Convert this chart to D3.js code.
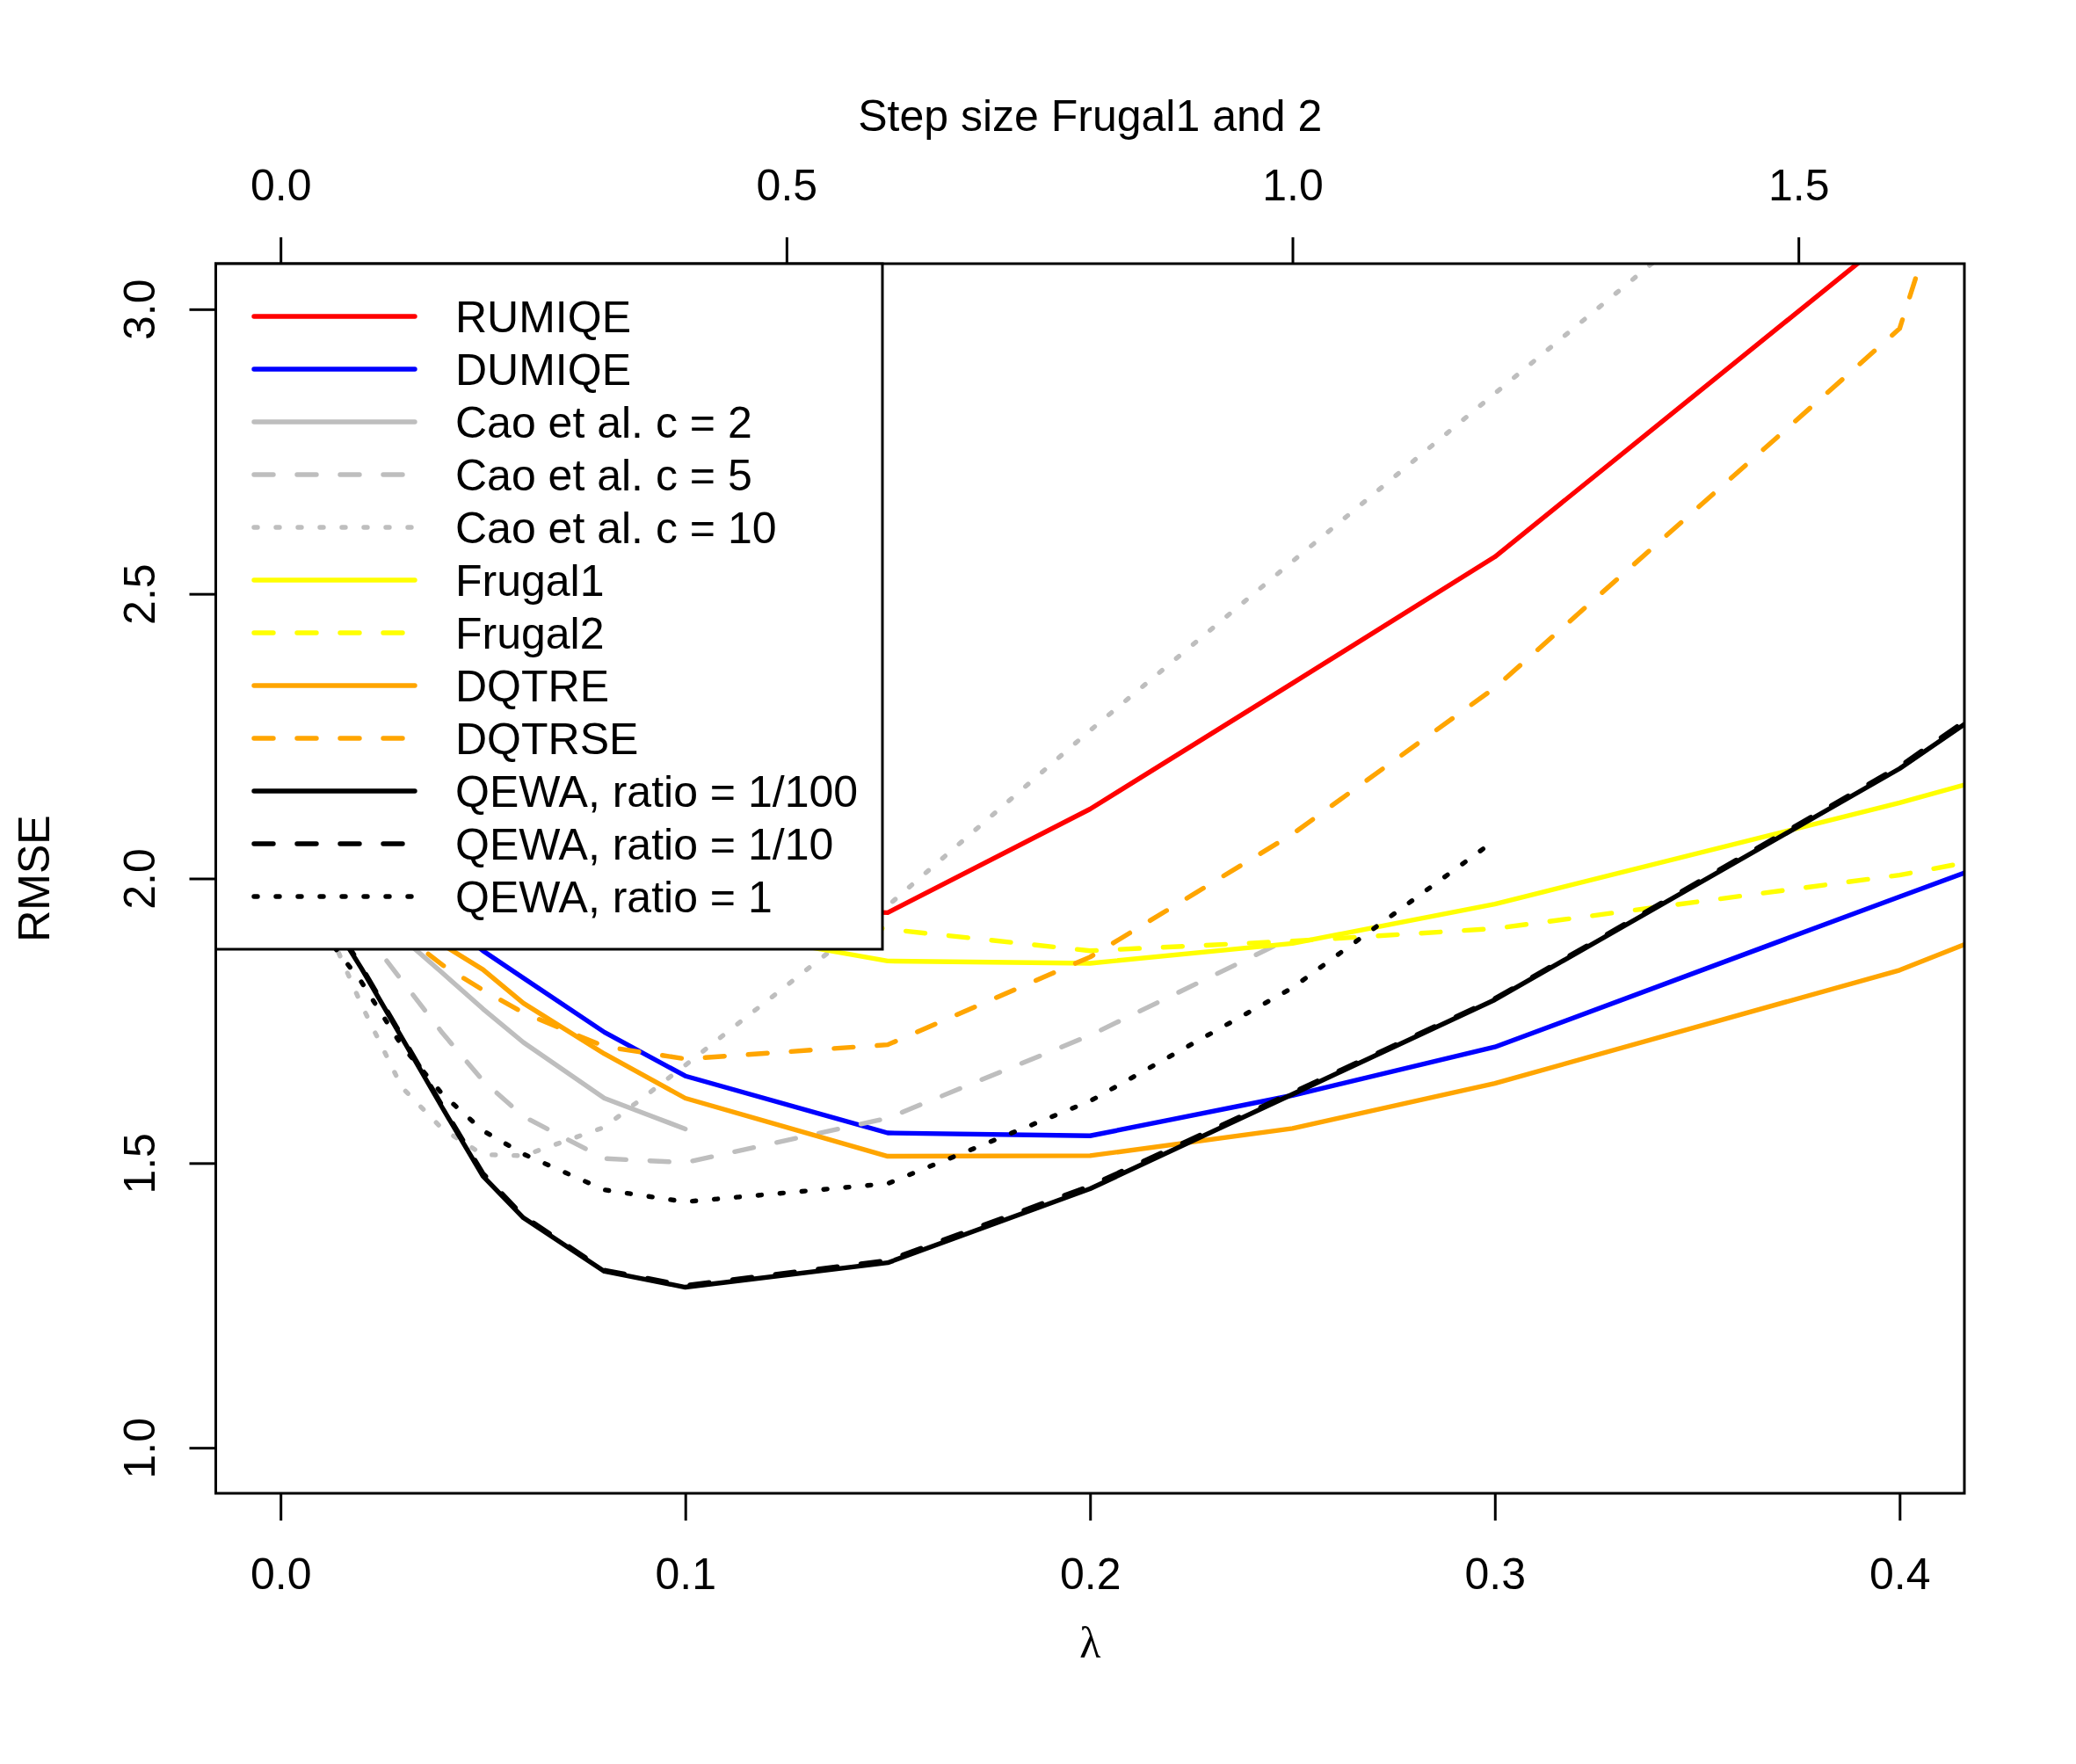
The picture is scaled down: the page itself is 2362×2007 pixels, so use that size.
<!DOCTYPE html>
<html><head><meta charset="utf-8">
<script src="https://cdn.jsdelivr.net/npm/d3@7"></script>
<style>
body{margin:0;background:#fff}
svg{display:block}
text{font-family:"Liberation Sans",Arial,sans-serif;fill:#000}
</style>
</head><body>
<svg id="chart" width="2362" height="2007"></svg>
<script>
// ---- data ----
const lambdaGrid = [0.01,0.02,0.03,0.04,0.05,0.06,0.08,0.1,0.15,0.2,0.25,0.3,0.4,0.5];
const seriesNames = ["RUMIQE","DUMIQE","Cao et al. c = 2","Cao et al. c = 5","Cao et al. c = 10",
  "Frugal1","Frugal2","DQTRE","DQTRSE","QEWA, ratio = 1/100","QEWA, ratio = 1/10","QEWA, ratio = 1"];
const seriesColors = ["#FF0000","#0000FF","#BEBEBE","#BEBEBE","#BEBEBE","#FFFF00","#FFFF00","#FFA500","#FFA500","#000000","#000000","#000000"];
const seriesLty = ["solid","solid","solid","dashed","dotted","solid","dashed","solid","dashed","solid","dashed","dotted"];
const rumiqe  = [2.60,2.40,2.25,2.15,2.08,2.03,1.98,1.95,1.94,2.122,2.343,2.565,3.14,3.72];
const dumiqe  = [2.25,2.10,2.00,1.93,1.873,1.825,1.730,1.653,1.553,1.548,1.619,1.704,1.968,2.23];
const cao2    = [2.15,2.00,1.896,1.834,1.771,1.712,1.614,1.560,null,null,null,null,null,null];
const cao5    = [2.05,1.913,1.8205,1.7285,1.645,1.582,1.508,1.501,1.579,1.7245,1.897,null,null,null];
const cao10   = [1.94,1.778,1.633,1.56,1.515,1.513,1.563,1.672,1.952,2.26,2.557,2.852,3.44,4.03];
const frugal1 = [2.55,2.35,2.22,2.13,2.07,2.02,1.96,1.918,1.855,1.851,1.886,1.955,2.133,2.33];
const frugal2 = [2.60,2.38,2.25,2.16,2.10,2.06,2.00,1.96,1.911,1.873,1.890,1.912,2.006,2.14];
const dqtre   = [2.20,2.05,1.95,1.884,1.840,1.781,1.692,1.614,1.512,1.513,1.561,1.640,1.839,2.12];
const dqtrse  = [2.10,1.98,1.903,1.848,1.804,1.764,1.705,1.683,1.708,1.862,2.078,2.335,2.966,5.2];
const qewa100 = [1.956,1.842,1.72,1.597,1.477,1.404,1.310,1.282,1.325,1.455,1.621,1.787,2.193,2.68];
const qewa10  = [1.96,1.845,1.723,1.60,1.482,1.407,1.312,1.285,1.329,1.46,1.624,1.789,2.197,2.69];
const qewa1   = [1.91,1.818,1.706,1.621,1.557,1.516,1.453,1.432,1.464,1.609,1.808,2.067,null,null];
const seriesValues = [rumiqe,dumiqe,cao2,cao5,cao10,frugal1,frugal2,dqtre,dqtrse,qewa100,qewa10,qewa1];
const xTicks = [0,0.1,0.2,0.3,0.4];
const yTicks = [1.0,1.5,2.0,2.5,3.0];
const topTicks = [0,0.5,1.0,1.5];
const xLabel = "λ", yLabel = "RMSE", topLabel = "Step size Frugal1 and 2";

// ---- layout ----
const L = 245.5, R = 2235, T = 300, B = 1699;
const FS = 50, LW = 5.4;
const x = d3.scaleLinear().domain([-0.016, 0.416]).range([L, R]);
const xTop = d3.scaleLinear().domain([-0.064, 1.664]).range([L, R]);
const y = d3.scaleLinear().domain([0.92, 3.08]).range([B, T]);
const dash = {solid: null, dashed: "22,27", dotted: "4,21"};

const svg = d3.select("#chart");
svg.append("rect").attr("width",2362).attr("height",2007).attr("fill","#fff");
svg.append("clipPath").attr("id","clip").append("rect")
  .attr("x",L).attr("y",T).attr("width",R-L).attr("height",B-T);

const line = d3.line().defined(d => d[1] != null).x(d => x(d[0])).y(d => y(d[1]));
const g = svg.append("g").attr("clip-path","url(#clip)");
seriesValues.forEach((vals,i) => {
  g.append("path")
    .attr("d", line(lambdaGrid.map((l,j) => [l, vals[j]])))
    .attr("fill","none").attr("stroke",seriesColors[i]).attr("stroke-width",LW)
    .attr("stroke-linecap","round").attr("stroke-linejoin","round")
    .attr("stroke-dasharray",dash[seriesLty[i]]);
});

// axes
function styleAxis(a){
  a.select(".domain").remove();
  a.selectAll(".tick line").attr("stroke","#000").attr("stroke-width",3);
  a.selectAll(".tick text").attr("font-size",FS).attr("font-family","Liberation Sans, Arial, sans-serif");
}
const ax = svg.append("g").attr("transform",`translate(0,${B})`)
  .call(d3.axisBottom(x).tickValues(xTicks).tickFormat(d3.format(".1f")).tickSize(31));
styleAxis(ax);
ax.selectAll(".tick text").attr("y",109).attr("dy",null);

const at = svg.append("g").attr("transform",`translate(0,${T})`)
  .call(d3.axisTop(xTop).tickValues(topTicks).tickFormat(d3.format(".1f")).tickSize(30));
styleAxis(at);
at.selectAll(".tick text").attr("y",-72).attr("dy",null);

const ay = svg.append("g").attr("transform",`translate(${L},0)`)
  .call(d3.axisLeft(y).tickValues(yTicks).tickFormat(d3.format(".1f")).tickSize(30));
styleAxis(ay);
ay.selectAll(".tick text").attr("x",null).attr("dy",null).attr("text-anchor","middle")
  .attr("transform","translate(-70,0) rotate(-90)");

// box
svg.append("rect").attr("x",L).attr("y",T).attr("width",R-L).attr("height",B-T)
  .attr("fill","none").attr("stroke","#000").attr("stroke-width",3);

// axis titles
svg.append("text").attr("x",(L+R)/2).attr("y",149).attr("text-anchor","middle").attr("font-size",FS).text(topLabel);
svg.append("text").attr("x",(L+R)/2).attr("y",1886).attr("text-anchor","middle").attr("font-size",FS)
  .style("font-family","'Liberation Serif','DejaVu Serif',serif").text(xLabel);
svg.append("text").attr("transform",`translate(56,${(T+B)/2}) rotate(-90)`).attr("text-anchor","middle")
  .attr("font-size",FS).text(yLabel);

// legend
const lg = svg.append("g");
lg.append("rect").attr("x",L).attr("y",T).attr("width",1004-L).attr("height",1080-T)
  .attr("fill","#fff").attr("stroke","#000").attr("stroke-width",3);
seriesNames.forEach((n,i) => {
  const yy = 360 + 60*i;
  lg.append("line").attr("x1",289).attr("x2",472).attr("y1",yy).attr("y2",yy)
    .attr("stroke",seriesColors[i]).attr("stroke-width",LW).attr("stroke-linecap","round")
    .attr("stroke-dasharray",dash[seriesLty[i]]);
  lg.append("text").attr("x",518).attr("y",yy+18).attr("font-size",FS).text(n);
});
</script>
</body></html>
